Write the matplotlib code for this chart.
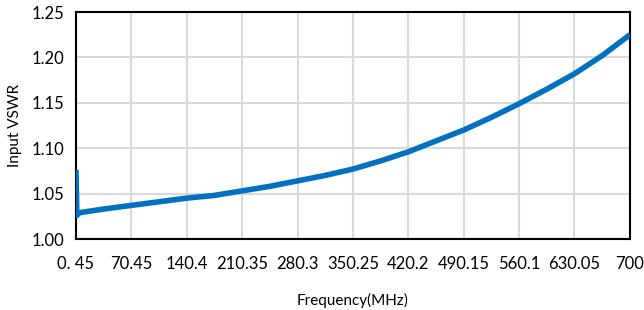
import matplotlib
matplotlib.use("Agg")
import matplotlib.pyplot as plt
import numpy as np

plt.rcParams["font.family"] = ["Lato", "DejaVu Sans"]

freq = [0.45, 1.5, 5, 20, 35, 70, 105, 140, 175, 210, 245, 280, 315, 350,
        385, 420, 455, 490, 525, 560, 595, 630, 665, 700]
vswr = [1.076, 1.026, 1.029, 1.031, 1.033, 1.037, 1.041, 1.045, 1.048, 1.053,
        1.058, 1.064, 1.070, 1.077, 1.086, 1.096, 1.108, 1.120, 1.134, 1.149,
        1.165, 1.182, 1.202, 1.225]

tick_labels = ["0. 45", "70.45", "140.4", "210.35", "280.3", "350.25",
               "420.2", "490.15", "560.1", "630.05", "700"]
y_ticks = [1.00, 1.05, 1.10, 1.15, 1.20, 1.25]

fig = plt.figure(figsize=(6.44, 3.10), dpi=100)
ax = fig.add_axes([0.118, 0.229, 0.860, 0.732])

ax.plot(freq, vswr, color="#0070C0", linewidth=4, solid_capstyle="butt", zorder=3)

ax.set_xlim(0.45, 700)
ax.set_ylim(1.00, 1.25)
ax.set_xticks(np.linspace(0.45, 700, len(tick_labels)))
ax.set_xticklabels(tick_labels)
ax.set_yticks(y_ticks)
ax.set_yticklabels([f"{v:.2f}" for v in y_ticks])
ax.tick_params(axis="both", length=0, labelsize=12, colors="black")
ax.tick_params(axis="x", pad=12)
ax.tick_params(axis="y", pad=8.5)

ax.grid(True, color="#D9D9D9", linewidth=1.5)
ax.set_axisbelow(True)
for s in ax.spines.values():
    s.set_color("black")
    s.set_linewidth(1.5)

ax.set_xlabel("Frequency(MHz)", fontsize=11, labelpad=15)
ax.set_ylabel("Input VSWR", fontsize=11, labelpad=7)

fig.savefig("out.png", dpi=100)
